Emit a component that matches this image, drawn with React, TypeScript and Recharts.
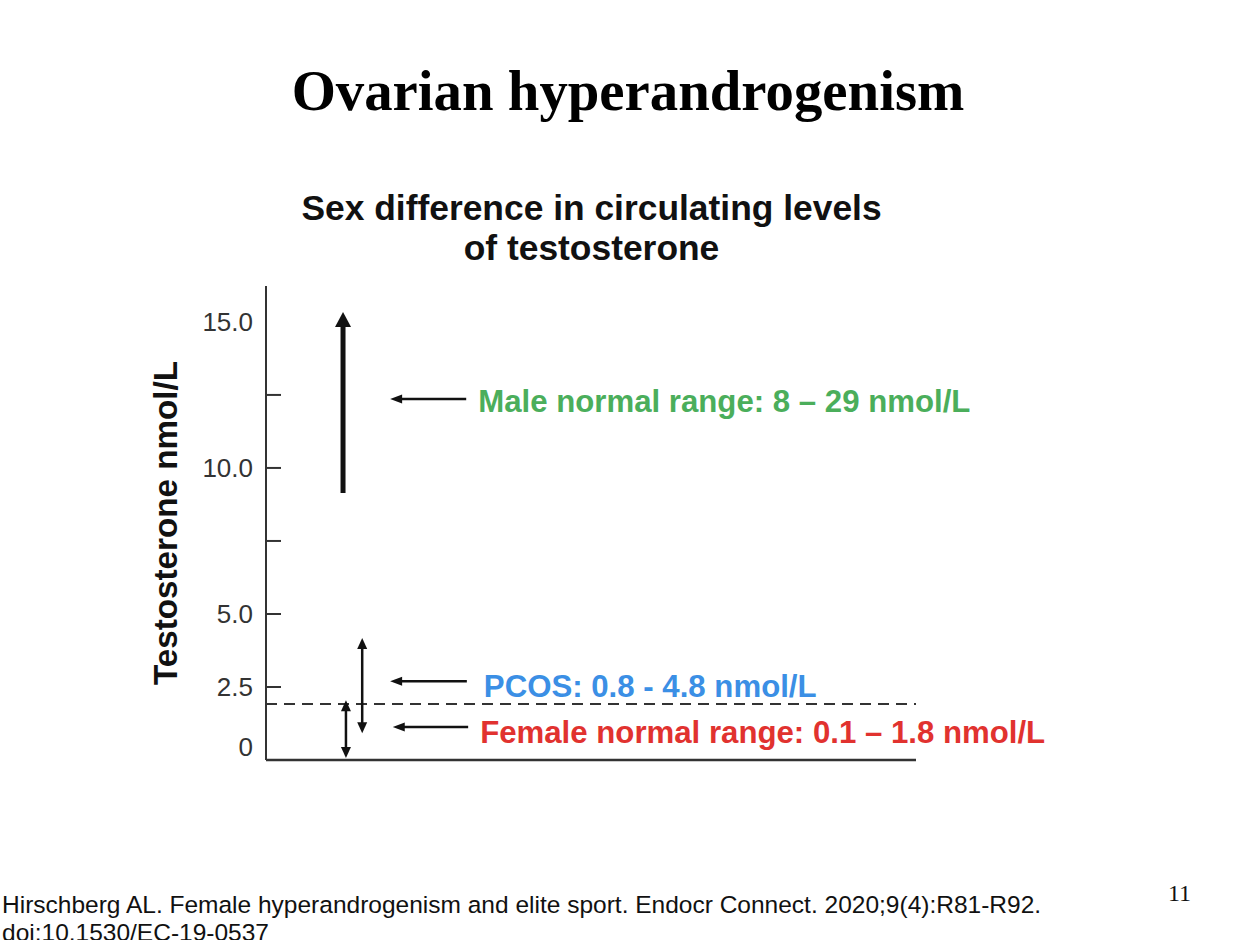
import React from 'react';
import { ComposedChart, XAxis, YAxis, ReferenceLine } from 'recharts';

// ---- data ----
const yTicks = [0, 2.5, 5, 7.5, 10, 12.5, 15];
const yTickLabels = ['0', '2.5', '5.0', '', '10.0', '', '15.0'];
const yTickMarks = [2.5, 5, 7.5, 10, 12.5];

// vertical range arrows: [x, low, high]
const rangeNames = ['male', 'pcos', 'female'];
const rangeX = [11.85, 14.8, 12.3];
const rangeLow = [9.14, 0.92, 0.07];
const rangeHigh = [15.34, 4.18, 2.05];

const femaleUpperLimit = 1.92;

// pointer arrows + labels
const labelTexts = [
  'Male normal range: 8 – 29 nmol/L',
  'PCOS: 0.8 - 4.8 nmol/L',
  'Female normal range: 0.1 – 1.8 nmol/L',
];
const labelLevels = [12.36, 2.7, 1.13];
const pointerStart = [30.8, 30.9, 31.1];
const pointerTip = [19.1, 19.1, 19.5];
const labelColors = ['#4bae5b', '#3b8fe5', '#e1322f'];

// ---- styles ----
const labelGap = [12, 17, 12];
const labelDy = [2, 5, 5];
const W = 1252;
const H = 940;
const PLOT_LEFT = 266;
const PLOT_RIGHT = 916;
const PLOT_TOP = 286;
const PLOT_BOTTOM = 760;
const Y_AXIS_W = 60;

const sans = 'Arial, "Liberation Sans", Helvetica, sans-serif';
const serif = '"Times New Roman", "Liberation Serif", Times, serif';

const YTick = (props: any) => {
  const { x, y, payload } = props;
  const idx = yTicks.indexOf(payload.value);
  const label = idx >= 0 ? yTickLabels[idx] : '';
  const hasMark = yTickMarks.includes(payload.value);
  const dyExtra = payload.value === 0 ? -13 : 0;
  return (
    <g>
      {hasMark && (
        <line x1={x + 13} x2={x + 28} y1={y} y2={y} stroke="#333" strokeWidth={2} />
      )}
      {label && (
        <text
          x={x}
          y={y + dyExtra}
          dy="0.36em"
          textAnchor="end"
          fontFamily={sans}
          fontSize={26}
          fill="#333"
        >
          {label}
        </text>
      )}
    </g>
  );
};

const makeVArrow = (thick: boolean, double: boolean) => (p: any) => {
  const { x1, y1, y2 } = p;
  const x = x1;
  const top = Math.min(y1, y2);
  const bot = Math.max(y1, y2);
  const sw = thick ? 5 : 2.5;
  const hl = thick ? 15 : 11;
  const hw = thick ? 16 : 10;
  return (
    <g>
      <line
        x1={x}
        x2={x}
        y1={top + hl - 1}
        y2={double ? bot - hl + 1 : bot}
        stroke="#111"
        strokeWidth={sw}
      />
      <polygon points={`${x},${top} ${x - hw / 2},${top + hl} ${x + hw / 2},${top + hl}`} fill="#111" />
      {double && (
        <polygon points={`${x},${bot} ${x - hw / 2},${bot - hl} ${x + hw / 2},${bot - hl}`} fill="#111" />
      )}
    </g>
  );
};

const makePointer = (i: number) => (p: any) => {
  const { x1, y1, x2 } = p;
  const start = Math.max(x1, x2);
  const tip = Math.min(x1, x2);
  const y = y1;
  const hl = 12;
  const hw = 9;
  return (
    <g>
      <line x1={tip + hl - 1} x2={start} y1={y} y2={y} stroke="#111" strokeWidth={2.5} />
      <polygon points={`${tip},${y} ${tip + hl},${y - hw / 2} ${tip + hl},${y + hw / 2}`} fill="#111" />
      <text
        x={start + labelGap[i]}
        y={y + labelDy[i]}
        dy="0.36em"
        fontFamily={sans}
        fontWeight="bold"
        fontSize={31.2}
        fill={labelColors[i]}
      >
        {labelTexts[i]}
      </text>
    </g>
  );
};

export default function App() {
  return (
    <div
      style={{
        position: 'absolute',
        left: 0,
        top: 0,
        width: W,
        height: H,
        overflow: 'hidden',
        background: '#fff',
      }}
    >
      <div
        style={{
          position: 'absolute',
          left: 0,
          width: 1256,
          top: 63,
          textAlign: 'center',
          fontFamily: serif,
          fontWeight: 'bold',
          fontSize: 56.8,
          lineHeight: '56px',
          color: '#000',
          whiteSpace: 'nowrap',
        }}
      >
        Ovarian hyperandrogenism
      </div>
      <div
        style={{
          position: 'absolute',
          left: 0,
          width: 1183,
          top: 188,
          textAlign: 'center',
          fontFamily: sans,
          fontWeight: 'bold',
          fontSize: 35.4,
          lineHeight: '40px',
          color: '#111',
          whiteSpace: 'nowrap',
        }}
      >
        Sex difference in circulating levels
        <br />
        of testosterone
      </div>
      <div
        style={{
          position: 'absolute',
          left: 166 - 200,
          top: 523 - 20,
          width: 400,
          height: 40,
          lineHeight: '40px',
          textAlign: 'center',
          transform: 'rotate(-90deg)',
          fontFamily: sans,
          fontWeight: 'bold',
          fontSize: 33.2,
          color: '#111',
          whiteSpace: 'nowrap',
        }}
      >
        Testosterone nmol/L
      </div>

      <div style={{ position: 'absolute', left: 0, top: 0 }}>
        <ComposedChart
          width={W}
          height={H}
          data={[]}
          margin={{
            top: PLOT_TOP,
            left: PLOT_LEFT - Y_AXIS_W,
            right: W - PLOT_RIGHT,
            bottom: H - PLOT_BOTTOM - 2,
          }}
        >
          <XAxis
            type="number"
            dataKey="x"
            domain={[0, 100]}
            allowDataOverflow
            tick={false}
            tickLine={false}
            height={2}
            axisLine={{ stroke: '#333', strokeWidth: 2.5 }}
          />
          <YAxis
            type="number"
            domain={[0, 16.23]}
            allowDataOverflow
            ticks={yTicks}
            interval={0}
            width={Y_AXIS_W}
            tickSize={0}
            tickMargin={13}
            tickLine={false}
            tick={<YTick />}
            axisLine={{ stroke: '#333', strokeWidth: 2 }}
          />
          <ReferenceLine
            segment={[
              { x: 0, y: femaleUpperLimit },
              { x: 100, y: femaleUpperLimit },
            ]}
            stroke="#333"
            strokeWidth={2}
            strokeDasharray="11 7"
          />
          {rangeNames.map((n, i) => (
            <ReferenceLine
              key={n}
              segment={[
                { x: rangeX[i], y: rangeLow[i] },
                { x: rangeX[i], y: rangeHigh[i] },
              ]}
              shape={makeVArrow(i === 0, i !== 0)}
            />
          ))}
          {labelTexts.map((t, i) => (
            <ReferenceLine
              key={t}
              segment={[
                { x: pointerStart[i], y: labelLevels[i] },
                { x: pointerTip[i], y: labelLevels[i] },
              ]}
              shape={makePointer(i)}
            />
          ))}
        </ComposedChart>
      </div>

      <div
        style={{
          position: 'absolute',
          left: 2,
          top: 891,
          fontFamily: sans,
          fontSize: 24.5,
          lineHeight: '28px',
          color: '#111',
          whiteSpace: 'nowrap',
        }}
      >
        Hirschberg AL. Female hyperandrogenism and elite sport. Endocr Connect. 2020;9(4):R81-R92.
        <br />
        doi:10.1530/EC-19-0537
      </div>
      <div
        style={{
          position: 'absolute',
          left: 1168,
          top: 880,
          fontFamily: serif,
          fontSize: 24,
          lineHeight: '26px',
          color: '#111',
          whiteSpace: 'nowrap',
        }}
      >
        11
      </div>
    </div>
  );
}
